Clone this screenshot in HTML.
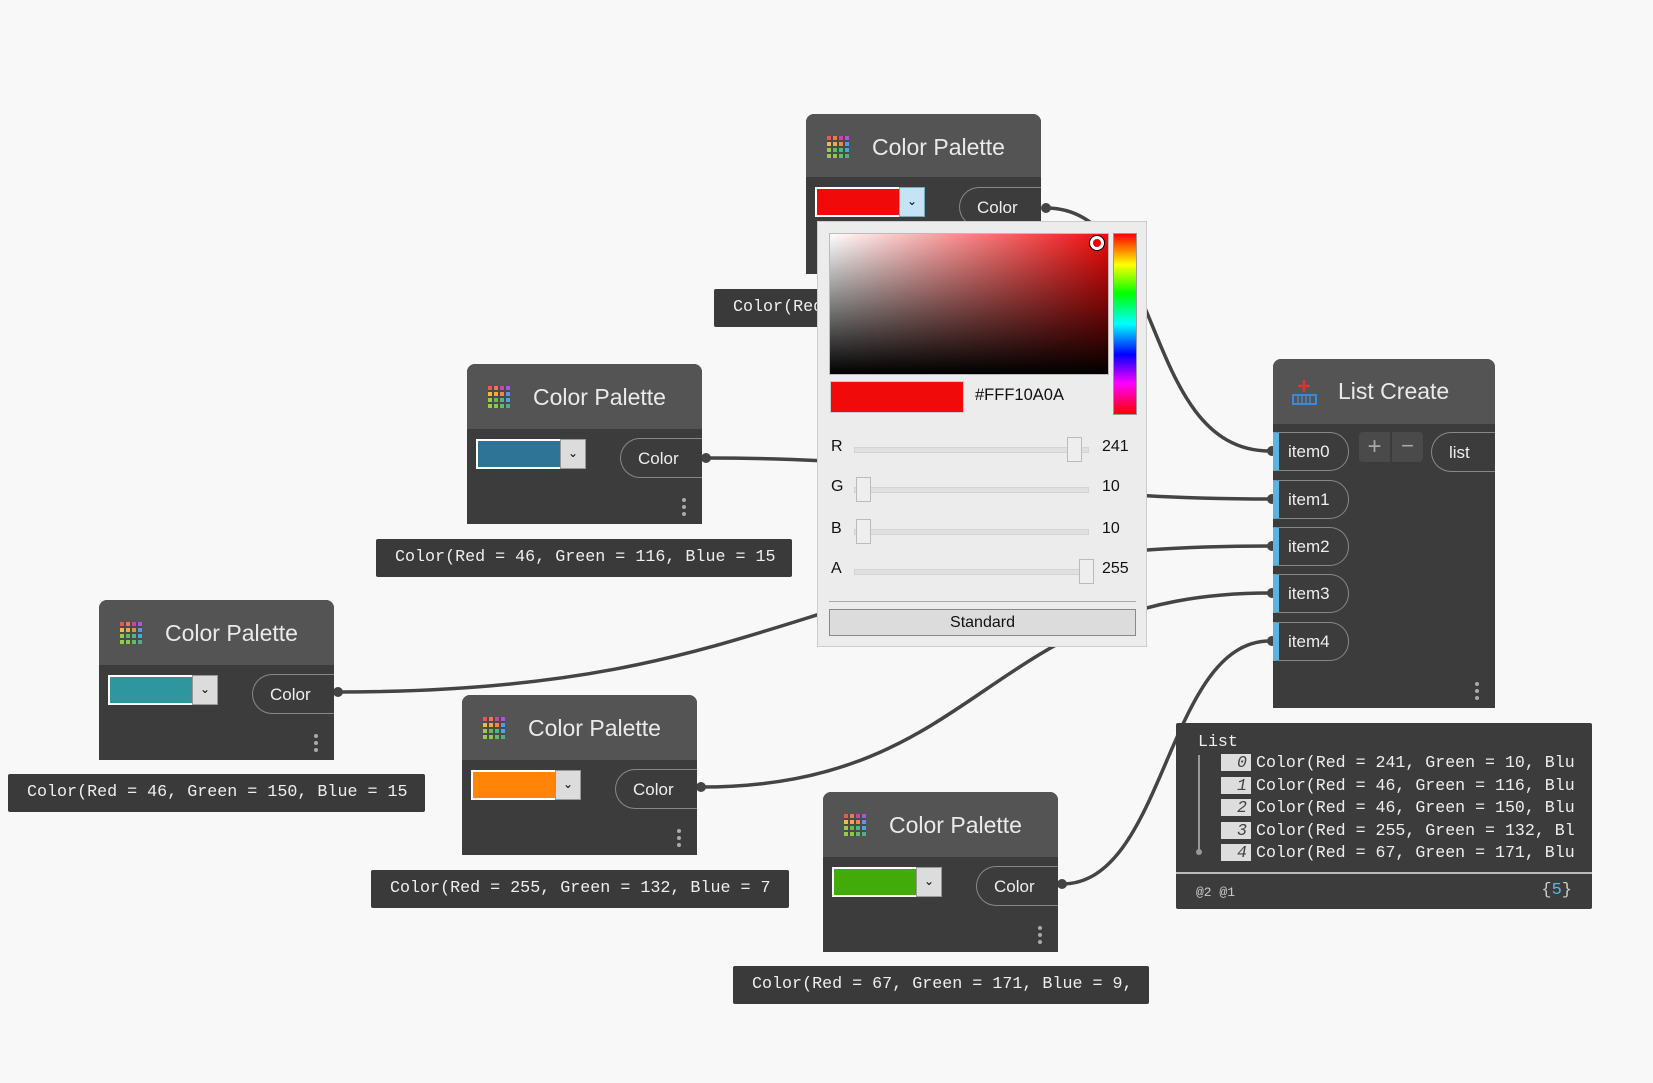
<!DOCTYPE html>
<html><head><meta charset="utf-8"><style>
body{margin:0;width:1653px;height:1083px;background:#f8f8f8;position:relative;overflow:hidden;font-family:"Liberation Sans","DejaVu Sans",sans-serif}
.node{position:absolute;width:235px;height:160px;background:#3c3c3c;border-radius:8px 8px 0 0}
.hdr{position:absolute;left:0;top:0;right:0;height:65px;background:#545454;border-radius:8px 8px 0 0}
.title{position:absolute;left:66px;top:20px;color:#eaeaea;font-size:23px}
.icon{position:absolute;left:21px;top:22px;width:22px;height:22px;display:grid;grid-template-columns:repeat(4,1fr);gap:2px;background:#4a4a4a}
.icon i{display:block;width:4px;height:4px}
.sw{position:absolute;left:9px;top:75px;width:82px;height:26px;border:2px solid #fff;box-sizing:content-box}
.dd{position:absolute;left:93px;top:75px;width:24px;height:28px;background:#dcdcdc;border:1px solid #999;font-size:12px;text-align:center;line-height:27px;color:#000}
.out{position:absolute;left:153px;top:74px;right:0;height:40px;border:1px solid #888;border-right:none;border-radius:20px 0 0 20px;color:#eee;font-size:17px;line-height:40px;padding-left:17px;box-sizing:border-box}
.dots{position:absolute;right:16px;bottom:8px;width:4px}
.dots b{display:block;width:4px;height:4px;border-radius:2px;background:#aaa;margin-top:3px}
.lab{position:absolute;background:#3a3a3a;color:#eee;font-family:"Liberation Mono",monospace;font-size:16.7px;line-height:38px;padding-left:19px;box-sizing:border-box;white-space:nowrap;overflow:hidden;border-radius:2px}
.inp{position:absolute;left:0;width:76px;height:39px;border:1px solid #888;border-left:6px solid #5ab4e0;border-radius:0 19px 19px 0;box-sizing:border-box;color:#eee;font-size:17px;line-height:37px;padding-left:9px}
.ix{display:inline-block;width:30px;background:#ddd;color:#444;font-style:italic;text-align:right;padding-right:4px;box-sizing:border-box;margin-right:5px;line-height:17px}
.p{position:absolute;font-size:16px;color:#111}
.trk{position:absolute;left:36px;width:233px;height:4px;background:#e0e0e0;border:1px solid #d4d4d4}
.hd{position:absolute;width:13px;height:23px;background:#eee;border:1px solid #bbb}
</style></head><body>
<svg width="1653" height="1083" style="position:absolute;left:0;top:0">
<g fill="none" stroke="#444" stroke-width="3.5">
<path d="M1046 208 C1165 208 1140 451 1270 451"/>
<path d="M706 458 C990 458 990 499 1270 499"/>
<path d="M338 692 C804 692 804 546 1270 546"/>
<path d="M701 787 C985 787 985 593 1270 593"/>
<path d="M1062 884 C1166 884 1166 641 1270 641"/>
</g>
<g fill="#444"><circle cx="1046" cy="208" r="5"/><circle cx="706" cy="458" r="5"/><circle cx="338" cy="692" r="5"/><circle cx="701" cy="787" r="5"/><circle cx="1062" cy="884" r="5"/>
<circle cx="1272" cy="451" r="5"/><circle cx="1272" cy="499" r="5"/><circle cx="1272" cy="546" r="5"/><circle cx="1272" cy="593" r="5"/><circle cx="1272" cy="641" r="5"/></g>
</svg>

<div class="node" style="left:806px;top:114px;height:160px"><div class="hdr" style="height:63px"><div class="icon"><i style="background:#e55"></i><i style="background:#e75"></i><i style="background:#c4a"></i><i style="background:#a5d"></i><i style="background:#eb4"></i><i style="background:#ea4"></i><i style="background:#e84"></i><i style="background:#59e"></i><i style="background:#9c4"></i><i style="background:#6b5"></i><i style="background:#4b8"></i><i style="background:#4ad"></i><i style="background:#9c4"></i><i style="background:#8c4"></i><i style="background:#6b6"></i><i style="background:#5a8"></i></div><div class="title">Color Palette</div></div>
<div class="sw" style="top:73px;background:#f10a0a"></div><div class="dd" style="top:73px;background:#c4e3f5;border-color:#7ab">⌄</div><div class="out" style="top:73px">Color</div></div>
<div class="lab" style="left:714px;top:289px;width:120px">Color(Red = 241</div>

<div class="node" style="left:467px;top:364px"><div class="hdr"><div class="icon"><i style="background:#e55"></i><i style="background:#e75"></i><i style="background:#c4a"></i><i style="background:#a5d"></i><i style="background:#eb4"></i><i style="background:#ea4"></i><i style="background:#e84"></i><i style="background:#59e"></i><i style="background:#9c4"></i><i style="background:#6b5"></i><i style="background:#4b8"></i><i style="background:#4ad"></i><i style="background:#9c4"></i><i style="background:#8c4"></i><i style="background:#6b6"></i><i style="background:#5a8"></i></div><div class="title">Color Palette</div></div>
<div class="sw" style="background:#2e7496"></div><div class="dd">⌄</div><div class="out">Color</div><div class="dots"><b></b><b></b><b></b></div></div>
<div class="lab" style="left:376px;top:539px;width:416px">Color(Red = 46, Green = 116, Blue = 15</div>

<div class="node" style="left:99px;top:600px"><div class="hdr"><div class="icon"><i style="background:#e55"></i><i style="background:#e75"></i><i style="background:#c4a"></i><i style="background:#a5d"></i><i style="background:#eb4"></i><i style="background:#ea4"></i><i style="background:#e84"></i><i style="background:#59e"></i><i style="background:#9c4"></i><i style="background:#6b5"></i><i style="background:#4b8"></i><i style="background:#4ad"></i><i style="background:#9c4"></i><i style="background:#8c4"></i><i style="background:#6b6"></i><i style="background:#5a8"></i></div><div class="title">Color Palette</div></div>
<div class="sw" style="background:#2e969f"></div><div class="dd">⌄</div><div class="out">Color</div><div class="dots"><b></b><b></b><b></b></div></div>
<div class="lab" style="left:8px;top:774px;width:417px">Color(Red = 46, Green = 150, Blue = 15</div>

<div class="node" style="left:462px;top:695px"><div class="hdr"><div class="icon"><i style="background:#e55"></i><i style="background:#e75"></i><i style="background:#c4a"></i><i style="background:#a5d"></i><i style="background:#eb4"></i><i style="background:#ea4"></i><i style="background:#e84"></i><i style="background:#59e"></i><i style="background:#9c4"></i><i style="background:#6b5"></i><i style="background:#4b8"></i><i style="background:#4ad"></i><i style="background:#9c4"></i><i style="background:#8c4"></i><i style="background:#6b6"></i><i style="background:#5a8"></i></div><div class="title">Color Palette</div></div>
<div class="sw" style="background:#ff8407"></div><div class="dd">⌄</div><div class="out">Color</div><div class="dots"><b></b><b></b><b></b></div></div>
<div class="lab" style="left:371px;top:870px;width:418px">Color(Red = 255, Green = 132, Blue = 7</div>

<div class="node" style="left:823px;top:792px"><div class="hdr"><div class="icon"><i style="background:#e55"></i><i style="background:#e75"></i><i style="background:#c4a"></i><i style="background:#a5d"></i><i style="background:#eb4"></i><i style="background:#ea4"></i><i style="background:#e84"></i><i style="background:#59e"></i><i style="background:#9c4"></i><i style="background:#6b5"></i><i style="background:#4b8"></i><i style="background:#4ad"></i><i style="background:#9c4"></i><i style="background:#8c4"></i><i style="background:#6b6"></i><i style="background:#5a8"></i></div><div class="title">Color Palette</div></div>
<div class="sw" style="background:#43ab09"></div><div class="dd">⌄</div><div class="out">Color</div><div class="dots"><b></b><b></b><b></b></div></div>
<div class="lab" style="left:733px;top:966px;width:416px">Color(Red = 67, Green = 171, Blue = 9,</div>

<!-- List Create -->
<div class="node" style="left:1273px;top:359px;width:222px;height:349px"><div class="hdr" style="height:65px">
<svg style="position:absolute;left:19px;top:19px" width="26" height="28"><path d="M12 2v12M6 8h12" stroke="#d33" stroke-width="2.5"/><rect x="1" y="17" width="23" height="9" fill="none" stroke="#3a8ad8" stroke-width="2"/><path d="M6 17v9M10 17v9M14 17v9M18 17v9" stroke="#3a8ad8" stroke-width="1.5"/></svg>
<div class="title" style="left:65px;top:19px">List Create</div></div>
<div class="inp" style="top:73px">item0</div><div class="inp" style="top:121px">item1</div><div class="inp" style="top:168px">item2</div><div class="inp" style="top:215px">item3</div><div class="inp" style="top:263px">item4</div>
<div style="position:absolute;left:86px;top:73px;width:31px;height:30px;background:#4a4a4a;color:#aaa;font-size:24px;text-align:center;line-height:29px;border-radius:4px 0 0 4px">+</div>
<div style="position:absolute;left:119px;top:73px;width:31px;height:30px;background:#4a4a4a;color:#aaa;font-size:22px;text-align:center;line-height:28px;border-radius:0 4px 4px 0">−</div>
<div class="out" style="left:158px;top:73px;height:40px;line-height:40px;font-size:17px">list</div>
<div class="dots"><b></b><b></b><b></b></div></div>

<div style="position:absolute;left:1176px;top:723px;width:416px;height:186px;background:#3c3c3c;border-radius:2px;font-family:'Liberation Mono',monospace;color:#eee;font-size:16.6px">
<div style="position:absolute;left:22px;top:9px">List</div>
<div style="position:absolute;left:22px;top:32px;width:2px;height:96px;background:#999"></div>
<div style="position:absolute;left:20px;top:126px;width:6px;height:6px;border-radius:3px;background:#999"></div>
<div style="position:absolute;left:45px;top:29px;line-height:22.5px;white-space:pre"><span class="ix">0</span>Color(Red = 241, Green = 10, Blu
<span class="ix">1</span>Color(Red = 46, Green = 116, Blu
<span class="ix">2</span>Color(Red = 46, Green = 150, Blu
<span class="ix">3</span>Color(Red = 255, Green = 132, Bl
<span class="ix">4</span>Color(Red = 67, Green = 171, Blu</div>
<div style="position:absolute;left:0;right:0;top:149px;height:2px;background:#bbb"></div>
<div style="position:absolute;left:20px;top:162px;font-size:13px;color:#ccc">@2 @1</div>
<div style="position:absolute;right:20px;top:158px;font-size:17px;color:#ccc">{<span style="color:#5ab4e0">5</span>}</div>
</div>

<!-- Popup -->
<div style="position:absolute;left:817px;top:221px;width:330px;height:426px;background:#ececec;border:1px solid #ccc;box-sizing:border-box">
<div style="position:absolute;left:11px;top:11px;width:278px;height:140px;background:linear-gradient(to bottom,transparent,#000),linear-gradient(to right,#fff,#f10a0a);border:1px solid #bbb"></div>
<div style="position:absolute;left:272px;top:14px;width:8px;height:8px;border-radius:50%;background:#e00;border:3px solid #fff;box-shadow:0 0 0 1px #000"></div>
<div style="position:absolute;left:295px;top:11px;width:22px;height:180px;background:linear-gradient(to bottom,#f00,#ff0 17%,#0f0 33%,#0ff 50%,#00f 67%,#f0f 83%,#f00);border:1px solid #999"></div>
<div style="position:absolute;left:12px;top:159px;width:132px;height:30px;background:#f10a0a;border:1px solid #ccc"></div>
<div class="p" style="left:157px;top:164px;font-size:16.5px">#FFF10A0A</div>
<div class="p" style="left:13px;top:216px">R</div>
<div class="p" style="left:13px;top:256px">G</div>
<div class="p" style="left:13px;top:298px">B</div>
<div class="p" style="left:13px;top:338px">A</div>
<div class="trk" style="top:225px"></div><div class="trk" style="top:265px"></div><div class="trk" style="top:307px"></div><div class="trk" style="top:347px"></div>
<div class="hd" style="left:249px;top:215px"></div>
<div class="hd" style="left:38px;top:255px"></div>
<div class="hd" style="left:38px;top:297px"></div>
<div class="hd" style="left:261px;top:337px"></div>
<div class="p" style="left:284px;top:216px">241</div>
<div class="p" style="left:284px;top:256px">10</div>
<div class="p" style="left:284px;top:298px">10</div>
<div class="p" style="left:284px;top:338px">255</div>
<div style="position:absolute;left:11px;top:379px;width:307px;height:1px;background:#aaa"></div>
<div style="position:absolute;left:11px;top:387px;width:307px;height:27px;background:#dcdcdc;border:1px solid #888;box-sizing:border-box;text-align:center;font-size:16px;line-height:25px;color:#111">Standard</div>
</div>
</body></html>
